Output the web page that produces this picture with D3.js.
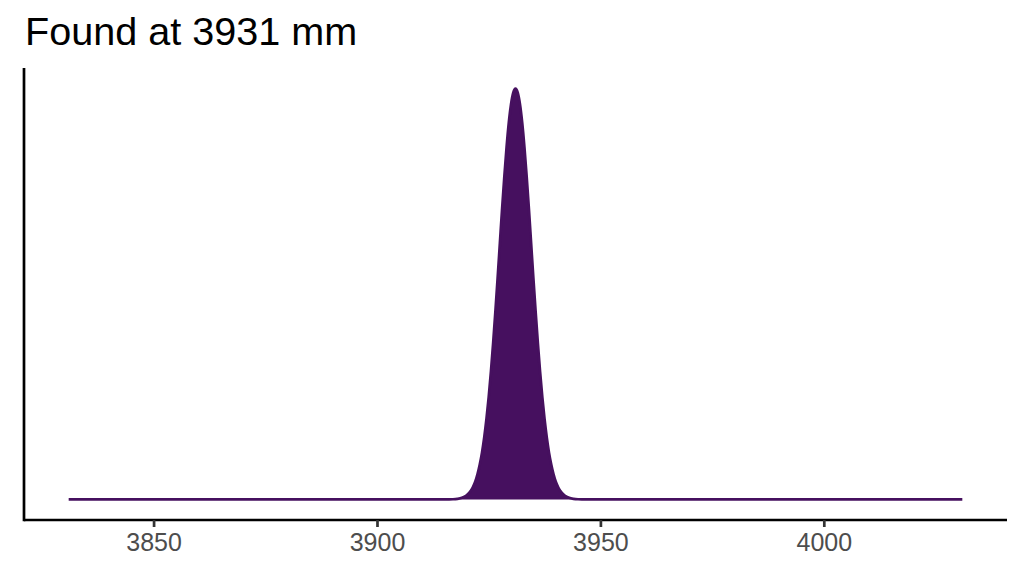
<!DOCTYPE html>
<html>
<head>
<meta charset="utf-8">
<script src="https://cdn.jsdelivr.net/npm/d3@7"></script>
<style>
  html, body { margin: 0; padding: 0; background: #fff; }
  svg { display: block; font-family: "Liberation Sans", Arial, sans-serif; }
</style>
</head>
<body>
<svg id="chart" width="1024" height="576"></svg>
<script>
// Data (position in mm, relative density)
const titleText = "Found at 3931 mm";
const positions = [3831, 3880, 3910, 3914, 3916, 3917, 3918, 3919, 3920,
  3921, 3921.5, 3922, 3922.5, 3923, 3923.5, 3924, 3924.5, 3925, 3925.5,
  3926, 3926.5, 3927, 3927.5, 3928, 3928.5, 3929, 3929.5, 3930, 3930.5,
  3931, 3931.5, 3932, 3932.5, 3933, 3933.5, 3934, 3934.5, 3935, 3935.5,
  3936, 3936.5, 3937, 3937.5, 3938, 3938.5, 3939, 3939.5, 3940, 3940.5,
  3941, 3942, 3943, 3944, 3945, 3946, 3948, 3952, 3980, 4031];
const density = [0, 0, 0, 0, 0.0002, 0.0005, 0.0015, 0.0039, 0.0094,
  0.021, 0.031, 0.044, 0.062, 0.085, 0.114, 0.151, 0.196, 0.249, 0.311,
  0.381, 0.458, 0.539, 0.623, 0.707, 0.786, 0.857, 0.917, 0.962, 0.990,
  1.000, 0.990, 0.962, 0.917, 0.857, 0.786, 0.707, 0.623, 0.539, 0.458,
  0.381, 0.311, 0.249, 0.196, 0.151, 0.114, 0.085, 0.062, 0.044, 0.031,
  0.021, 0.0094, 0.0039, 0.0015, 0.0005, 0.0002, 0, 0, 0, 0];
const xTicks = [3850, 3900, 3950, 4000];

const data = positions.map((p, i) => ({ x: p, y: density[i] }));

const svg = d3.select("#chart");
const mLeft = 24, mRight = 1007, mTop = 68, mBottom = 520;

const xExt = d3.extent(positions);
const xPad = (xExt[1] - xExt[0]) * 0.05;
const x = d3.scaleLinear().domain([xExt[0] - xPad, xExt[1] + xPad]).range([mLeft, mRight]);
const yMax = d3.max(density);
const y = d3.scaleLinear().domain([-0.05 * yMax, 1.05 * yMax]).range([mBottom, mTop]);

const colour = "#46105f";

svg.append("text")
  .attr("x", 25).attr("y", 45)
  .style("font-size", "39.6px")
  .attr("fill", "#000")
  .text(titleText);

const area = d3.area().x(d => x(d.x)).y0(y(0)).y1(d => y(d.y)).curve(d3.curveMonotoneX);
const line = d3.line().x(d => x(d.x)).y(d => y(d.y)).curve(d3.curveMonotoneX);

svg.append("path").datum(data)
  .attr("d", area)
  .attr("fill", colour);
svg.append("path").datum(data)
  .attr("d", line)
  .attr("fill", "none")
  .attr("stroke", colour)
  .attr("stroke-width", 2.7);

// x axis
const xAxis = d3.axisBottom(x).tickValues(xTicks).tickFormat(d3.format("d"))
  .tickSize(7).tickPadding(6).tickSizeOuter(0);
const gx = svg.append("g").attr("transform", `translate(0,${mBottom})`).call(xAxis);
gx.select(".domain").attr("stroke", "#000").attr("stroke-width", 2.7).attr("d", `M${mLeft},0H${mRight}`);
gx.selectAll(".tick line").attr("stroke", "#333").attr("stroke-width", 2.7);
gx.selectAll(".tick text").attr("fill", "#4d4d4d")
  .style("font-size", "25px")
  .style("font-family", "Liberation Sans, Arial, sans-serif");

// y axis line (no ticks)
svg.append("line")
  .attr("x1", mLeft).attr("x2", mLeft)
  .attr("y1", mTop).attr("y2", mBottom + 1.3)
  .attr("stroke", "#000").attr("stroke-width", 2.7);
</script>
</body>
</html>
